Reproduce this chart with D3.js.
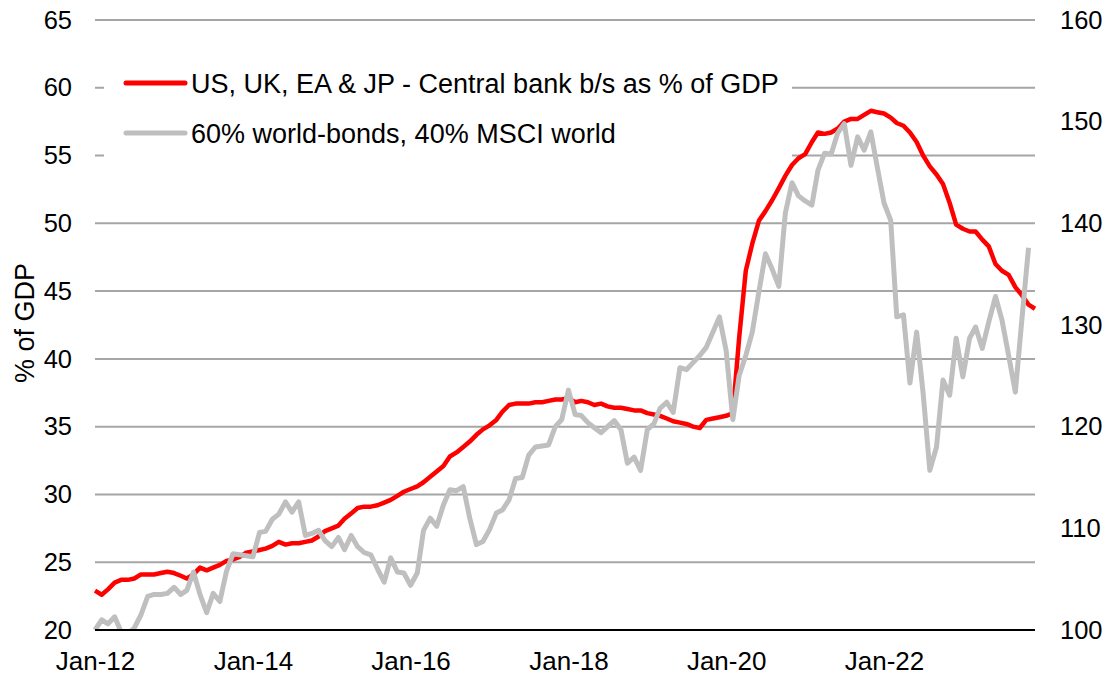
<!DOCTYPE html>
<html>
<head>
<meta charset="utf-8">
<script src="https://cdn.jsdelivr.net/npm/d3@7"></script>
<style>
body { margin: 0; background: #fff; }
text { font-family: "Liberation Sans", Arial, sans-serif; fill: #000; }
</style>
</head>
<body>
<script>
///////////////////   Data   /////////////////

// monthly, Jan-12 .. Dec-23
var startMonth = "Jan-12",
    endMonth = "Dec-23";

// US, UK, EA & JP central bank balance sheets, % of GDP (left axis)
var cbBalanceSheet = [
    22.9, 22.6, 23.0, 23.5, 23.7, 23.7, 23.8, 24.1, 24.1, 24.1, 24.2, 24.3,
    24.2, 24.0, 23.8, 24.1, 24.6, 24.4, 24.6, 24.8, 25.1, 25.2, 25.4, 25.7,
    25.8, 25.9, 26.0, 26.2, 26.5, 26.3, 26.4, 26.4, 26.5, 26.6, 26.9, 27.3,
    27.5, 27.7, 28.2, 28.6, 29.0, 29.1, 29.1, 29.2, 29.4, 29.6, 29.9, 30.2,
    30.4, 30.6, 30.9, 31.3, 31.7, 32.1, 32.8, 33.1, 33.5, 33.9, 34.4, 34.8,
    35.1, 35.5, 36.1, 36.6, 36.7, 36.7, 36.7, 36.8, 36.8, 36.9, 37.0, 37.0,
    37.1, 36.8, 36.9, 36.8, 36.6, 36.7, 36.5, 36.4, 36.4, 36.3, 36.2, 36.2,
    36.0, 35.9, 35.8, 35.6, 35.4, 35.3, 35.2, 35.0, 34.9, 35.5, 35.6, 35.7,
    35.8, 36.0, 41.5, 46.5, 48.5, 50.2, 50.9, 51.7, 52.6, 53.5, 54.3, 54.8,
    55.1, 56.0, 56.7, 56.6, 56.7, 57.0, 57.5, 57.7, 57.7, 58.0, 58.3, 58.2,
    58.1, 57.8, 57.4, 57.2, 56.7, 56.0, 55.0, 54.2, 53.6, 52.9, 51.5, 49.9,
    49.6, 49.4, 49.4, 48.8, 48.3, 47.0, 46.5, 46.2, 45.3, 44.7, 44.0, 43.7
];

// 60% world bonds / 40% MSCI world portfolio, index (right axis)
var portfolio6040 = [
    100.0, 101.0, 100.6, 101.3, 99.8, 99.6, 100.2, 101.5, 103.3, 103.5, 103.5, 103.6,
    104.2, 103.5, 103.9, 105.7, 103.5, 101.7, 103.6, 102.8, 105.8, 107.5, 107.4, 107.3,
    107.2, 109.6, 109.7, 110.9, 111.4, 112.6, 111.6, 112.6, 109.3, 109.5, 109.8, 108.8,
    108.2, 109.1, 107.9, 109.3, 108.2, 107.6, 107.4, 106.0, 104.7, 107.1, 105.7, 105.6,
    104.4, 105.6, 109.8, 111.0, 110.2, 112.3, 113.8, 113.7, 114.1, 111.0, 108.4, 108.7,
    109.9, 111.5, 111.8, 112.8, 114.9, 115.0, 117.2, 118.0, 118.1, 118.2, 120.0, 120.7,
    123.6, 121.2, 121.1, 120.4, 119.9, 119.4, 120.0, 120.6, 119.7, 116.4, 117.0, 115.7,
    119.7, 120.3, 121.8, 122.4, 121.4, 125.8, 125.6, 126.3, 127.0, 127.8, 129.3, 130.8,
    127.5, 120.7, 125.0, 127.0, 129.3, 133.3, 137.0, 135.5, 133.8, 141.0, 144.0, 142.7,
    142.2, 141.8, 145.2, 146.9, 146.8, 148.9, 149.8, 145.7, 148.5, 147.2, 149.0, 145.5,
    142.0, 140.3, 130.8, 131.0, 124.3, 129.3, 123.3, 115.7, 118.0, 124.6, 123.1, 128.7,
    124.9, 128.7, 129.8, 127.7, 130.3, 132.8, 130.5, 127.0, 123.4, 130.5, 137.6
];

var xTickLabels = ["Jan-12", "Jan-14", "Jan-16", "Jan-18", "Jan-20", "Jan-22"],
    leftTicks = [20, 25, 30, 35, 40, 45, 50, 55, 60, 65],
    rightTicks = [100, 110, 120, 130, 140, 150, 160];

var seriesNames = ["US, UK, EA & JP - Central bank b/s as % of GDP",
                   "60% world-bonds, 40% MSCI world"];

///////////////////   Layout   /////////////////

var W = 1109, H = 675,
    plotLeft = 95, plotRight = 1035, plotTop = 20, plotBottom = 630,
    fontSize = 25.5,       // tick labels
    legendFontSize = 27;   // legend and axis title run a bit wider

var colors = {
    "red": "#FF0000",
    "gray": "#BFBFBF",
    "grid": "#A6A6A6",
    "axis": "#000000"
};

var parseMonth = d3.timeParse("%b-%y"),
    months = d3.timeMonth.range(parseMonth(startMonth), d3.timeMonth.offset(parseMonth(endMonth), 1));

var x = d3.scaleTime()
    .domain([parseMonth(startMonth), parseMonth(endMonth)])
    .range([plotLeft, plotRight]);

var yLeft = d3.scaleLinear().domain([20, 65]).range([plotBottom, plotTop]),
    yRight = d3.scaleLinear().domain([100, 160]).range([plotBottom, plotTop]);

var svg = d3.select("body").append("svg")
    .attr("width", W)
    .attr("height", H);

svg.append("defs").append("clipPath")
    .attr("id", "plotClip")
  .append("rect")
    .attr("x", plotLeft - 5)
    .attr("y", plotTop - 10)
    .attr("width", plotRight - plotLeft + 10)
    .attr("height", plotBottom - plotTop + 10);

////////////////   Gridlines   //////////////

svg.append("g")
    .attr("class", "grid")
    .selectAll("line")
    .data(leftTicks.filter(function(d) { return d > 20; }))
  .enter().append("line")
    .attr("x1", plotLeft)
    .attr("x2", plotRight)
    .attr("y1", function(d) { return yLeft(d); })
    .attr("y2", function(d) { return yLeft(d); })
    .style("stroke", colors.grid)
    .style("stroke-width", 2);

////////////////   Axes   //////////////

var leftAxis = d3.axisLeft(yLeft).tickValues(leftTicks).tickSize(0).tickPadding(23);
svg.append("g")
    .attr("transform", "translate(" + plotLeft + ",0)")
    .call(leftAxis)
    .call(function(g) { g.select(".domain").remove(); })
    .selectAll("text")
    .style("font-size", fontSize + "px")
    .style("font-family", "'Liberation Sans', Arial, sans-serif");

var rightAxis = d3.axisRight(yRight).tickValues(rightTicks).tickSize(0).tickPadding(25);
svg.append("g")
    .attr("transform", "translate(" + plotRight + ",0)")
    .call(rightAxis)
    .call(function(g) { g.select(".domain").remove(); })
    .selectAll("text")
    .style("font-size", fontSize + "px")
    .style("font-family", "'Liberation Sans', Arial, sans-serif");

var bottomAxis = d3.axisBottom(x)
    .tickValues(xTickLabels.map(parseMonth))
    .tickFormat(d3.timeFormat("%b-%y"))
    .tickSize(0)
    .tickPadding(22);
svg.append("g")
    .attr("transform", "translate(0," + plotBottom + ")")
    .call(bottomAxis)
    .call(function(g) { g.select(".domain").remove(); })
    .selectAll("text")
    .style("font-size", (fontSize + 0.5) + "px")
    .style("font-family", "'Liberation Sans', Arial, sans-serif");

// axis title
svg.append("text")
    .attr("transform", "translate(34," + ((plotTop + plotBottom) / 2 - 2) + ") rotate(-90)")
    .attr("text-anchor", "middle")
    .style("font-size", legendFontSize + "px")
    .text("% of GDP");

////////////////   Legend box (hides the gridlines behind it)   //////////////

svg.append("rect")
    .attr("x", 104)
    .attr("y", 45)
    .attr("width", 688)
    .attr("height", 135)
    .style("fill", "#fff");

////////////////   Series   //////////////

var lineLeft = d3.line()
    .x(function(d, i) { return x(months[i]); })
    .y(function(d) { return yLeft(d); });

var lineRight = d3.line()
    .x(function(d, i) { return x(months[i]); })
    .y(function(d) { return yRight(d); });

var lines = svg.append("g").attr("clip-path", "url(#plotClip)");

lines.append("path")
    .datum(cbBalanceSheet)
    .attr("d", lineLeft)
    .style("fill", "none")
    .style("stroke", colors.red)
    .style("stroke-width", 4.5)
    .style("stroke-linejoin", "round");

lines.append("path")
    .datum(portfolio6040)
    .attr("d", lineRight)
    .style("fill", "none")
    .style("stroke", colors.gray)
    .style("stroke-width", 5)
    .style("stroke-linejoin", "round");

// bottom axis line on top of the series
svg.append("line")
    .attr("x1", plotLeft)
    .attr("x2", plotRight)
    .attr("y1", yLeft(20))
    .attr("y2", yLeft(20))
    .style("stroke", colors.axis)
    .style("stroke-width", 2);

////////////////   Legend   //////////////

var legend = svg.append("g").selectAll("g")
    .data(seriesNames)
  .enter().append("g")
    .attr("transform", function(d, i) { return "translate(0," + (83 + i * 50) + ")"; });

legend.append("line")
    .attr("x1", 126)
    .attr("x2", 185)
    .style("stroke", function(d, i) { return i == 0 ? colors.red : colors.gray; })
    .style("stroke-width", 5)
    .style("stroke-linecap", "round");

legend.append("text")
    .attr("x", 191)
    .attr("y", 9.5)
    .style("font-size", legendFontSize + "px")
    .text(function(d) { return d; });
</script>
</body>
</html>
